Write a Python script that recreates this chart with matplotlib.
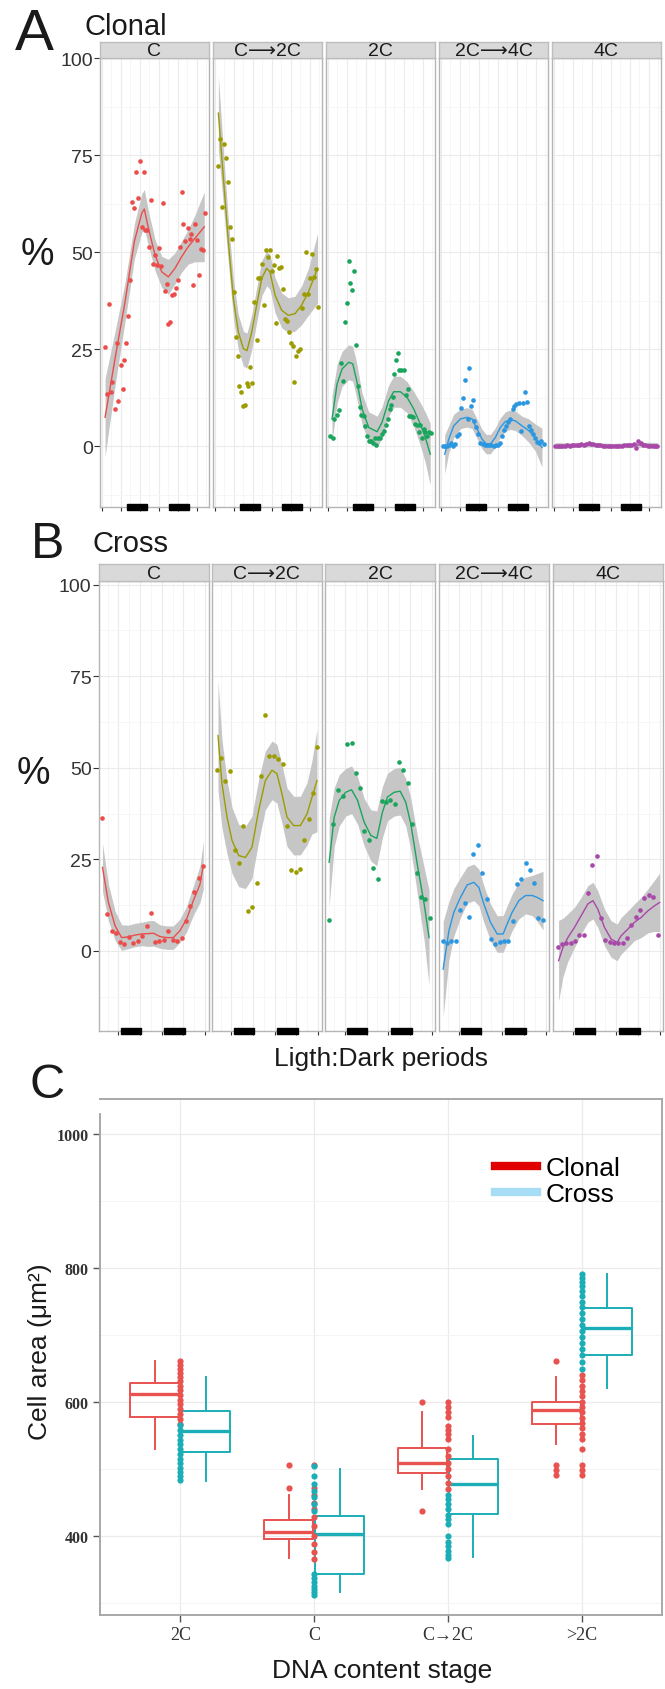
import matplotlib.pyplot as plt
from matplotlib.patches import Rectangle
from matplotlib.lines import Line2D
from matplotlib.ticker import MultipleLocator
import numpy as np

plt.rcParams['font.family'] = ['Liberation Sans', 'DejaVu Sans']

# ---------------- data ----------------
stages = ['C', 'C⟶2C', '2C', '2C⟶4C', '4C']
stage_colors = ['#EA4D4A', '#9C9C00', '#19A55C', '#2A97E0', '#A848A8']

# Panel A (Clonal) - points, hours
A_C_x = [2.1, 3.6, 4.6, 5.9, 6.7, 8.4, 9.5, 10.5, 12.0, 13.3, 14.3, 15.6, 16.6, 17.9, 18.9, 20.2, 21.5, 22.7,
         24.0, 25.3, 26.5, 27.4, 28.8, 29.9, 31.2, 32.6, 33.7, 34.9, 36.2, 37.5, 38.5, 40.0, 41.0, 42.1, 43.2,
         44.2, 45.5, 46.7, 48.0, 49.5, 50.5, 51.6, 52.6, 54.3, 55.6, 56.6, 57.9, 58.9, 60.4, 61.5, 62.7, 63.8, 65.3]
A_C_y = [25.6, 13.5, 36.6, 14.1, 16.6, 9.7, 26.6, 11.6, 20.9, 14.7, 22.4, 26.7, 33.5, 43.0, 62.9, 61.4, 70.6, 63.9,
         73.5, 56.6, 70.6, 55.9, 55.8, 51.3, 63.4, 47.1, 49.3, 46.7, 51.2, 46.6, 62.7, 40.1, 41.8, 31.6, 32.2,
         39.0, 39.2, 40.9, 43.0, 51.4, 65.5, 57.3, 53.0, 56.4, 53.4, 54.7, 41.6, 57.2, 53.2, 44.3, 51.0, 50.6, 60.1]
A_C2C_x = [2.3, 3.6, 4.6, 5.9, 7.2, 8.4, 9.5, 10.7, 12.0, 13.3, 14.5, 15.4, 16.6, 17.7, 18.9, 20.2, 21.3, 22.5,
           23.8, 25.1, 26.5, 27.6, 28.6, 30.1, 31.4, 32.6, 33.9, 34.9, 36.2, 37.3, 38.5, 39.6, 40.6, 41.9, 43.4,
           44.4, 45.7, 46.9, 48.0, 49.3, 50.3, 51.6, 52.8, 54.1, 55.2, 56.4, 57.7, 59.2, 60.2, 61.3, 62.5, 63.8, 65.0]
A_C2C_y = [72.2, 79.3, 61.8, 77.9, 74.3, 68.1, 56.6, 53.4, 39.7, 28.1, 23.2, 15.5, 14.1, 10.3, 10.8, 16.3, 15.5, 20.6,
           16.4, 37.2, 27.5, 43.3, 43.3, 47.0, 36.4, 50.6, 48.9, 50.6, 45.3, 46.7, 31.9, 49.1, 45.9, 46.3, 40.5,
           32.9, 32.3, 29.5, 26.6, 25.9, 16.6, 23.4, 24.7, 25.0, 35.7, 39.4, 50.2, 39.4, 43.4, 49.5, 43.6, 45.6, 36.0]
A_2C_x = [1.7, 3.2, 3.8, 5.9, 7.4, 8.4, 9.5, 10.7, 12.0, 13.3, 14.3, 15.6, 16.6, 17.9, 19.2, 20.4, 21.3, 22.7, 23.4,
          24.8, 25.9, 27.2, 28.4, 29.7, 30.7, 31.8, 33.0, 34.3, 35.6, 36.8, 38.1, 39.2, 40.2, 41.0, 42.1, 42.9, 44.4,
          45.3, 46.5, 48.0, 49.5, 50.7, 51.6, 52.8, 54.1, 55.4, 56.4, 57.5, 58.5, 59.6, 60.8, 61.7, 62.9, 64.2, 65.5]
A_2C_y = [2.6, 2.1, 7.2, 8.1, 9.5, 21.6, 16.9, 32.1, 37.0, 47.8, 42.2, 40.4, 45.2, 26.2, 15.7, 10.1, 8.1, 7.9, 5.3,
          2.8, 1.5, 1.5, 0.9, 2.1, 0.3, 2.3, 2.3, 3.2, 4.1, 5.5, 7.1, 9.7, 10.7, 12.7, 18.7, 22.4, 24.1,
          19.7, 19.7, 19.6, 13.3, 14.7, 7.9, 7.8, 7.5, 5.8, 5.5, 3.8, 5.5, 2.3, 4.5, 3.8, 2.8, 3.6, 3.4]
A_2C4C_x = [1.3, 2.5, 4.0, 5.5, 6.7, 7.8, 9.3, 10.3, 11.4, 13.1, 14.3, 15.6, 17.1, 17.9, 18.9, 20.2, 21.3, 22.5,
            23.6, 25.1, 26.5, 27.8, 29.3, 30.7, 32.0, 33.5, 34.9, 36.2, 37.7, 38.7, 40.0, 41.3, 42.5, 44.0, 45.5,
            46.5, 47.8, 49.3, 50.7, 51.8, 53.0, 54.3, 55.6, 56.8, 58.1, 59.4, 60.8, 62.3, 63.6, 65.0]
A_2C4C_y = [0.2, 0.2, 0.2, 0.3, 0.8, 0.2, 0.6, 2.8, 3.2, 9.8, 12.5, 17.2, 7.1, 20.3, 10.5, 12.0, 6.6, 5.1,
            3.2, 1.0, 0.6, 0.3, 0.3, 0.3, 0.3, 0.2, 0.3, 0.3, 1.0, 2.8, 4.3, 5.2, 6.4, 7.1, 9.7,
            10.5, 10.9, 11.1, 3.9, 11.1, 14.1, 11.4, 5.3, 4.3, 3.2, 2.3, 1.2, 0.8, 1.5, 0.6]
A_4C_x = [1.0, 2.5, 4.0, 5.5, 7.0, 8.5, 10.0, 11.5, 13.0, 14.5, 16.0, 17.5, 19.0, 20.5, 22.0, 23.5, 25.0, 26.5,
          28.0, 29.5, 31.0, 32.5, 34.0, 35.5, 37.0, 38.5, 40.0, 41.5, 43.0, 44.5, 46.0, 47.5, 49.0, 50.5, 52.0,
          53.5, 55.0, 56.5, 58.0, 59.5, 61.0, 62.5, 64.0, 65.5]
A_4C_y = [0.1, 0.0, 0.2, 0.1, 0.2, 0.3, 0.2, 0.3, 0.4, 0.3, 0.5, 0.6, 0.5, 0.7, 0.8, 0.6, 0.7, 0.5,
          0.4, 0.3, 0.2, 0.2, 0.1, 0.1, 0.2, 0.1, 0.1, 0.2, 0.2, 0.3, 0.3, 0.4, 0.5, 0.6, -0.4,
          1.5, 0.9, 0.5, 0.3, 0.2, 0.1, 0.1, 0.0, 0.1]

# Panel A smooth fits: x, fit, half width of band
A_C_fx = [2.1, 8.4, 14.7, 20.6, 25.3, 26.9, 29.5, 33.7, 37.9, 42.1, 46.3, 50.5, 54.7, 58.9, 64.8]
A_C_fy = [7.5, 22.6, 37.2, 52.8, 60.1, 61.2, 56.2, 49.3, 45.0, 43.7, 45.9, 48.9, 51.5, 53.6, 56.6]
A_C_se = [10, 7, 5, 4.5, 5, 5, 4.5, 4, 4, 4.5, 4, 4, 4.5, 6, 9]
A_C2C_fx = [2.3, 5.5, 8.6, 11.8, 14.9, 18.1, 20.4, 23.4, 26.5, 29.7, 32.8, 34.9, 38.1, 42.3, 46.5, 50.7, 54.9, 59.2, 65.0]
A_C2C_fy = [85.9, 69.1, 52.8, 38.1, 29.5, 25.2, 24.7, 29.5, 36.4, 43.3, 45.9, 45.0, 39.0, 35.1, 33.8, 34.2, 36.4, 39.8, 45.9]
A_C2C_se = [9.5, 7, 5.5, 5, 4.5, 4.5, 4.5, 4.5, 4.5, 4.5, 4.5, 4.5, 4.5, 4.5, 4.5, 4.5, 5, 6, 9]
A_2C_fx = [2.7, 5.9, 9.1, 13.3, 15.8, 18.5, 21.7, 25.9, 31.2, 34.3, 38.5, 41.7, 45.9, 50.1, 54.3, 58.5, 61.7, 64.8]
A_2C_fy = [7.1, 16.1, 20.0, 21.7, 21.3, 16.6, 9.7, 4.9, 3.8, 6.2, 11.8, 14.1, 14.1, 12.7, 9.7, 5.8, 2.3, -2.0]
A_2C_se = [6, 5, 4.5, 4.5, 4.5, 4.5, 4, 4, 4, 4, 4, 4, 4, 4, 4.5, 5.5, 6.5, 8]
A_2C4C_fx = [2.5, 5.1, 8.2, 12.4, 16.6, 19.8, 23.0, 26.1, 28.8, 31.4, 34.5, 37.7, 40.8, 44.0, 47.2, 51.4, 55.6, 59.8, 64.0]
A_2C4C_fy = [-2.0, 1.9, 5.3, 7.1, 7.5, 7.1, 4.5, 1.9, 0.6, 0.6, 2.3, 4.9, 6.4, 6.9, 6.6, 5.3, 4.1, 2.3, -0.3]
A_2C4C_se = [5, 3.5, 3, 2.5, 2.5, 2.5, 2.5, 2.5, 2.5, 2.5, 2.5, 2.5, 2.5, 2.5, 2.5, 2.5, 3, 3.5, 5]
A_4C_fx = [1.0, 12.0, 24.0, 36.0, 48.0, 60.0, 65.5]
A_4C_fy = [0.2, 0.3, 0.5, 0.2, 0.3, 0.5, 0.2]
A_4C_se = [0.8, 0.6, 0.6, 0.6, 0.6, 0.6, 0.8]

# Panel B (Cross)
B_C_x = [3.2, 5.9, 8.3, 10.5, 12.9, 15.3, 17.9, 20.3, 22.7, 25.3, 27.7, 30.1, 32.3, 34.7, 37.1, 39.6, 42.0, 44.4,
         47.0, 49.4, 51.8, 54.0, 56.4, 58.8]
B_C_y = [36.2, 10.0, 5.3, 4.8, 2.3, 1.8, 3.8, 2.0, 2.6, 4.1, 6.8, 10.2, 2.3, 2.6, 2.9, 5.3, 2.9, 2.6,
         3.5, 8.2, 12.3, 16.0, 19.9, 23.1]
B_C2C_x = [4.1, 6.5, 8.7, 11.4, 13.8, 16.1, 18.6, 21.0, 23.4, 26.0, 28.2, 30.8, 33.0, 35.4, 37.8, 40.4, 42.6, 45.2,
           47.6, 50.0, 52.2, 54.8, 57.2, 59.6]
B_C2C_y = [49.5, 52.6, 46.4, 49.0, 27.4, 24.0, 34.2, 10.8, 12.1, 18.5, 47.7, 64.5, 53.2, 53.2, 52.5, 50.9, 34.2, 22.1,
           21.4, 22.4, 30.4, 36.0, 43.1, 55.7]
B_2C_x = [3.3, 5.7, 8.3, 10.7, 13.1, 15.7, 18.1, 20.5, 22.7, 25.3, 27.7, 30.1, 32.5, 34.9, 37.1, 39.6, 42.0, 44.4,
          46.8, 49.4, 51.8, 54.0, 56.6, 59.0]
B_2C_y = [8.5, 34.5, 44.0, 42.2, 56.6, 56.8, 48.5, 44.5, 32.7, 30.3, 22.6, 19.5, 40.9, 40.6, 41.1, 40.0, 51.6, 49.5,
          45.8, 34.5, 21.2, 14.6, 14.1, 8.9]
B_2C4C_x = [3.3, 5.5, 7.9, 10.3, 12.9, 15.3, 17.7, 20.1, 22.5, 24.9, 27.3, 29.7, 32.1, 34.5, 36.9, 39.3, 41.7, 44.0,
            46.4, 48.9, 51.3, 53.7, 56.0, 58.4]
B_2C4C_y = [2.6, 2.1, 2.7, 2.6, 11.1, 13.0, 9.3, 26.5, 28.9, 21.2, 14.1, 3.2, 1.8, 2.5, 2.6, 2.6, 8.2, 18.2,
            19.6, 23.9, 22.1, 18.5, 8.9, 8.4]
B_4C_x = [3.7, 5.9, 8.3, 10.7, 13.1, 15.5, 17.9, 20.3, 22.7, 25.1, 27.5, 29.8, 32.4, 34.8, 37.2, 39.6, 42.0, 44.4,
          46.8, 49.2, 51.6, 54.0, 56.4, 59.0]
B_4C_y = [1.1, 1.8, 2.1, 2.1, 2.6, 4.3, 4.3, 15.7, 23.4, 25.9, 8.9, 2.9, 2.3, 2.1, 2.1, 2.0, 3.6, 7.1,
          9.3, 11.1, 14.3, 15.3, 14.6, 4.4]

B_C_fx = [3.2, 6.5, 10.2, 13.8, 17.5, 21.2, 24.9, 28.6, 31.4, 35.0, 38.7, 42.4, 46.1, 49.8, 53.5, 57.2, 59.0]
B_C_fy = [22.8, 13.2, 6.8, 3.6, 3.8, 4.3, 4.6, 4.7, 4.8, 3.9, 3.6, 3.6, 5.5, 8.7, 13.7, 18.2, 23.3]
B_C_se = [6.5, 5, 4, 3.5, 3.2, 3.2, 3.2, 3.5, 3.5, 3.2, 3.2, 3.2, 3.2, 3.5, 4, 5, 6.5]
B_C2C_fx = [4.6, 6.8, 9.6, 12.4, 16.1, 19.8, 23.4, 27.1, 30.8, 34.5, 37.2, 40.0, 42.8, 46.5, 50.2, 53.9, 56.6, 59.4]
B_C2C_fy = [58.8, 45.6, 36.5, 30.1, 26.0, 25.5, 28.3, 38.3, 46.5, 49.3, 48.4, 42.9, 36.5, 34.2, 34.2, 37.4, 41.9, 46.5]
B_C2C_se = [15, 12, 10, 9, 8.5, 8.5, 8.5, 8.5, 8, 8, 8, 8, 8, 8, 8, 8.5, 10, 14]
B_2C_fx = [3.3, 6.1, 8.9, 12.5, 15.7, 19.0, 22.7, 26.4, 29.7, 32.8, 35.6, 39.3, 42.6, 45.7, 48.5, 52.2, 55.9, 58.6]
B_2C_fy = [24.2, 36.5, 41.1, 43.3, 44.0, 41.1, 35.1, 31.5, 30.7, 37.9, 42.0, 43.3, 43.6, 40.6, 34.7, 23.3, 12.8, 3.6]
B_2C_se = [12, 8, 7, 6.5, 6.5, 6.5, 6.5, 7, 7.5, 7, 6.5, 6.5, 6.5, 6.5, 7, 8, 10, 13]
B_2C4C_fx = [3.3, 6.5, 9.2, 12.9, 16.6, 20.3, 23.1, 25.8, 29.5, 33.2, 36.5, 38.7, 41.5, 45.2, 48.9, 52.6, 55.3, 58.6]
B_2C4C_fy = [-5.0, 5.5, 10.5, 14.6, 18.0, 18.7, 17.3, 12.8, 7.8, 4.6, 4.6, 7.3, 10.5, 13.7, 15.1, 15.1, 14.6, 13.7]
B_2C4C_se = [13, 8, 6.5, 5.5, 5, 5, 5, 5, 5, 5, 5, 5, 5, 5, 5, 5.5, 6.5, 8]
B_4C_fx = [4.1, 6.5, 9.2, 12.9, 16.6, 20.3, 23.1, 25.8, 29.5, 33.2, 36.5, 38.7, 42.4, 46.1, 49.8, 53.5, 57.2, 60.0]
B_4C_fy = [-2.7, 0.9, 3.6, 6.4, 9.6, 12.8, 13.7, 11.4, 6.4, 3.2, 2.3, 4.1, 5.9, 7.8, 9.1, 10.9, 12.3, 13.2]
B_4C_se = [11, 8, 6.5, 5.5, 5, 5, 5, 5, 5, 5, 5, 5, 5, 5, 5.5, 6, 7, 8]

# dark periods (hours)
A_dark = [(15.8, 28.4), (42.7, 55.3)]
B_dark = [(13.3, 24.4), (37.3, 48.9)]

# Panel C boxplots
c_stages = ['2C', 'C', 'C→2C', '>2C']
clonal_q1 = [578, 396, 494, 567]
clonal_med = [613, 407, 509, 589]
clonal_q3 = [628, 424, 531, 600]
clonal_lo = [530, 367, 470, 537]
clonal_hi = [661, 461, 585, 637]
cross_q1 = [526, 344, 433, 670]
cross_med = [557, 404, 478, 711]
cross_q3 = [587, 430, 515, 741]
cross_lo = [483, 317, 369, 622]
cross_hi = [637, 500, 550, 791]

# outliers drawn at the box centre (clonal)
clonal_box_out = [[], [507, 472], [600, 437], [661, 506, 499, 491]]
# outliers stacked on the stage line
clonal_line_out = [
    [661, 656, 650, 644, 638, 632, 625, 618, 611, 604, 597, 590, 582, 575, 567],
    [507, 472, 462, 450, 440, 428, 415, 400, 388, 376, 366],
    [600, 593, 586, 578, 565, 559, 552, 545, 530, 520, 510, 500, 490, 480, 471],
    [641, 633, 625, 617, 609, 601, 593, 585, 577, 569, 561, 553, 545, 530, 506, 499, 491],
]
cross_line_out = [
    [566, 558, 551, 544, 537, 530, 523, 516, 509, 502, 496, 490, 484],
    [505, 490, 478, 468, 458, 448, 438, 343, 337, 331, 326, 321, 316, 313],
    [462, 455, 448, 440, 432, 425, 418, 400, 392, 385, 378, 372, 367],
    [791, 785, 779, 773, 766, 758, 750, 742, 733, 724, 715, 706, 697, 688, 679, 670, 660, 650],
]

# ---------------- figure ----------------
W, H = 665, 1690
fig = plt.figure(figsize=(W / 100, H / 100), dpi=100)


def px_axes(left, top, width, height):
    return fig.add_axes([left / W, 1 - (top + height) / H, width / W, height / H])


def px_text(x, y, s, **kw):
    fig.text(x / W, 1 - y / H, s, **kw)


def facet_row(series, lefts, width, top, strip_h, bottom, xlim, ylim, dark):
    for i, (name, col, x, y, fx, fy, se) in enumerate(series):
        left = lefts[i]
        ax = px_axes(left, top + strip_h, width, bottom - top - strip_h)
        ax.set_xlim(*xlim)
        ax.set_ylim(*ylim)
        ax.xaxis.set_major_locator(MultipleLocator(12))
        ax.xaxis.set_minor_locator(MultipleLocator(6))
        ax.set_yticks([0, 25, 50, 75, 100])
        ax.yaxis.set_minor_locator(MultipleLocator(12.5))
        ax.grid(which='major', color='#EBEBEB', lw=0.8)
        ax.grid(which='minor', color='#F5F5F5', lw=0.6)
        ax.set_axisbelow(True)
        for sp in ax.spines.values():
            sp.set_color('#B5B5B5')
            sp.set_linewidth(1.0)
        ax.tick_params(axis='x', which='major', length=3, width=0.8, color='#333333',
                       labelbottom=False)
        ax.tick_params(which='minor', length=0)
        if i == 0:
            ax.tick_params(axis='y', which='major', length=4, width=0.8, color='#333333',
                           labelsize=14, labelcolor='#333333', pad=1)
        else:
            ax.tick_params(axis='y', which='major', length=0, labelleft=False)

        fx, fy, se = np.array(fx), np.array(fy), np.array(se)
        ax.fill_between(fx, fy - se, fy + se, color='#C6C6C6', lw=0, zorder=2)
        ax.plot(fx, fy, color=col, lw=1.0, zorder=3)
        ax.scatter(x, y, s=11, color=col, linewidths=0, zorder=4)

        for d0, d1 in dark:
            ax.add_patch(Rectangle((d0, -0.006), d1 - d0, 0.012, transform=ax.get_xaxis_transform(),
                                   color='black', clip_on=False, zorder=6))

        sax = px_axes(left, top, width, strip_h)
        sax.set_facecolor('#D9D9D9')
        sax.set_xticks([])
        sax.set_yticks([])
        for sp in sax.spines.values():
            sp.set_color('#BDBDBD')
            sp.set_linewidth(1.0)
        sax.text(0.5, 0.45, name, transform=sax.transAxes, ha='center', va='center',
                 fontsize=14, color='#1A1A1A')


series_A = [
    (stages[0], stage_colors[0], A_C_x, A_C_y, A_C_fx, A_C_fy, A_C_se),
    (stages[1], stage_colors[1], A_C2C_x, A_C2C_y, A_C2C_fx, A_C2C_fy, A_C2C_se),
    (stages[2], stage_colors[2], A_2C_x, A_2C_y, A_2C_fx, A_2C_fy, A_2C_se),
    (stages[3], stage_colors[3], A_2C4C_x, A_2C4C_y, A_2C4C_fx, A_2C4C_fy, A_2C4C_se),
    (stages[4], stage_colors[4], A_4C_x, A_4C_y, A_4C_fx, A_4C_fy, A_4C_se),
]
series_B = [
    (stages[0], stage_colors[0], B_C_x, B_C_y, B_C_fx, B_C_fy, B_C_se),
    (stages[1], stage_colors[1], B_C2C_x, B_C2C_y, B_C2C_fx, B_C2C_fy, B_C2C_se),
    (stages[2], stage_colors[2], B_2C_x, B_2C_y, B_2C_fx, B_2C_fy, B_2C_se),
    (stages[3], stage_colors[3], B_2C4C_x, B_2C4C_y, B_2C4C_fx, B_2C4C_fy, B_2C4C_se),
    (stages[4], stage_colors[4], B_4C_x, B_4C_y, B_4C_fx, B_4C_fy, B_4C_se),
]

facet_row(series_A, [100, 213, 326, 439, 552], 109, 43, 16, 508, (-1.1, 67.8), (-15.6, 100.1), A_dark)
facet_row(series_B, [98.5, 211.5, 325, 439, 553], 110, 565, 17, 1032, (1.0, 61.9), (-21.9, 101.0), B_dark)

# titles / labels of A and B
px_text(15, 50, 'A', fontsize=42, color='#1A1A1A')
px_text(85, 35, 'Clonal', fontsize=21, color='#1A1A1A')
px_text(37, 265, '%', fontsize=27, ha='center', color='#1A1A1A')
px_text(31, 558, 'B', fontsize=36, color='#1A1A1A')
px_text(93, 552, 'Cross', fontsize=21, color='#1A1A1A')
px_text(33, 784, '%', fontsize=27, ha='center', color='#1A1A1A')
px_text(381, 1066, 'Ligth:Dark periods', fontsize=19, ha='center', color='#1A1A1A')

# ---------------- panel C ----------------
red = '#E8534F'
cyan = '#1BAEB6'
axc = px_axes(100, 1100, 562, 516)
pos = np.arange(1, len(c_stages) + 1)

st_clonal = [dict(med=m, q1=a, q3=b, whislo=lo, whishi=hi, fliers=[])
             for m, a, b, lo, hi in zip(clonal_med, clonal_q1, clonal_q3, clonal_lo, clonal_hi)]
st_cross = [dict(med=m, q1=a, q3=b, whislo=lo, whishi=hi, fliers=[])
            for m, a, b, lo, hi in zip(cross_med, cross_q1, cross_q3, cross_lo, cross_hi)]

for st, col, off in [(st_clonal, red, -0.19), (st_cross, cyan, 0.19)]:
    axc.bxp(st, positions=pos + off, widths=0.37, showfliers=False, showcaps=False,
            boxprops=dict(color=col, lw=1.4), whiskerprops=dict(color=col, lw=1.4),
            medianprops=dict(color=col, lw=2.4), manage_ticks=False)

for i, p in enumerate(pos):
    if clonal_box_out[i]:
        axc.scatter([p - 0.19] * len(clonal_box_out[i]), clonal_box_out[i], s=20, color=red,
                    linewidths=0, zorder=4)
    axc.scatter([p] * len(clonal_line_out[i]), clonal_line_out[i], s=20, color=red, linewidths=0, zorder=4)
    axc.scatter([p] * len(cross_line_out[i]), cross_line_out[i], s=20, color=cyan, linewidths=0, zorder=5)

axc.set_xlim(0.4, 4.6)
axc.set_ylim(282.4, 1052.7)
axc.set_xticks(pos)
axc.set_xticklabels(c_stages, fontsize=13, family=['Liberation Serif', 'DejaVu Serif'], color='#333333')
axc.set_yticks([400, 600, 800, 1000])
axc.set_yticklabels(['400', '600', '800', '1000'], fontsize=11.5, fontweight='bold',
                    family=['Liberation Serif', 'DejaVu Serif'], color='#333333')
axc.yaxis.set_minor_locator(MultipleLocator(100))
axc.tick_params(axis='both', which='major', length=5, width=1.0, color='#555555', pad=3)
axc.tick_params(which='minor', length=0)
axc.grid(which='major', color='#EBEBEB', lw=0.9)
axc.grid(which='minor', axis='y', color='#F4F4F4', lw=0.7)
axc.set_axisbelow(True)
for sp in axc.spines.values():
    sp.set_color('#A8A8A8')
    sp.set_linewidth(1.4)
axc.spines['left'].set_bounds(282.4, 1031)

axc.set_ylabel('Cell area (μm²)', fontsize=19, color='#1A1A1A')
axc.yaxis.set_label_coords(-0.085, 0.513)
axc.set_xlabel('DNA content stage', fontsize=19, color='#1A1A1A')
axc.xaxis.set_label_coords(0.502, -0.083)

handles = [Line2D([], [], color='#E00000', lw=6), Line2D([], [], color='#A6DDF4', lw=6)]
axc.legend(handles, ['Clonal', 'Cross'], loc='upper left', bbox_to_anchor=(0.703, 0.89),
           frameon=False, fontsize=19, handlelength=1.6, handletextpad=0.3,
           labelspacing=0.1, borderaxespad=0, borderpad=0)

px_text(30, 1098, 'C', fontsize=35, color='#1A1A1A')

fig.savefig('out.png', dpi=100)
